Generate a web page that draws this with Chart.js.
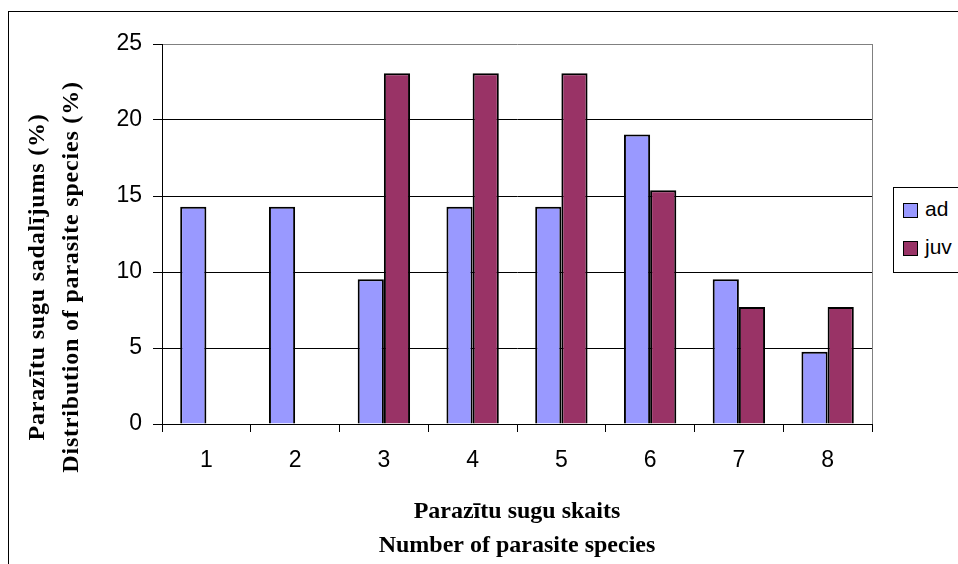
<!DOCTYPE html>
<html>
<head>
<meta charset="utf-8">
<title>Parazītu sugu sadalījums</title>
<script src="https://cdn.jsdelivr.net/npm/chart.js@4.4.1/dist/chart.umd.min.js"></script>
<style>
    body{ margin:0; background:#fff; }
    #wrap{ position:relative; width:958px; height:564px; overflow:hidden; }
    #legend{
        position:absolute; left:893px; top:187px; width:100px; height:86px;
        box-sizing:border-box; border:1px solid #000; background:#fff;
        font-family:"Liberation Sans", Arial, sans-serif; font-size:21px; color:#000;
    }
    #legend .item{ position:absolute; left:9px; height:24px; line-height:24px; white-space:nowrap; }
    #legend .box{ display:inline-block; width:15px; height:15px; box-sizing:border-box; border:1.5px solid #000; vertical-align:-2px; margin-right:7px; }
</style>
</head>
<body>
<div id="wrap">
    <canvas id="chart" width="958" height="564"></canvas>
    <div id="legend"></div>
</div>
<script>

const categories = ["1","2","3","4","5","6","7","8"];
const adValues = [14.29, 14.29, 9.52, 14.29, 14.29, 19.05, 9.52, 4.76];
const juvValues = [0, 0, 23.08, 23.08, 23.08, 15.38, 7.69, 7.69];
const yTicks = [0, 5, 10, 15, 20, 25];

const yTitle = ["Parazītu sugu sadalījums (%)", "Distribution of parasite species (%)"];
const xTitle = ["Parazītu sugu skaits", "Number of parasite species"];

const series = [
    { label:"ad", data:adValues, color:"#9999ff" },
    { label:"juv", data:juvValues, color:"#993366" }
];

// outer frame, right border of the plot and the rotated y title
const extras = {
    id:"extras",
    beforeDraw(chart){
        const ctx = chart.ctx;
        ctx.save();
        ctx.strokeStyle = "#000";
        ctx.lineWidth = 1;
        ctx.strokeRect(8.5, 11.5, 1200, 1000);
        ctx.restore();
    },
    afterDatasetsDraw(chart){
        const ctx = chart.ctx;
        const a = chart.chartArea;
        ctx.save();
        ctx.strokeStyle = "#808080";
        ctx.lineWidth = 1;
        ctx.beginPath();
        ctx.moveTo(Math.round(a.right) + 0.5, a.top);
        ctx.lineTo(Math.round(a.right) + 0.5, a.bottom);
        ctx.stroke();

        ctx.fillStyle = "#000";
        ctx.font = "bold 24px 'Liberation Serif', 'Times New Roman', serif";
        ctx.letterSpacing = "0.8px";
        ctx.textAlign = "center";
        ctx.textBaseline = "alphabetic";
        ctx.translate(44, 277);
        ctx.rotate(-Math.PI / 2);
        yTitle.forEach((line, i) => ctx.fillText(line, 0, i * 34));
        ctx.restore();
    }
};

const chart = new Chart(document.getElementById("chart"), {

    type:"bar",

    data:{
        labels:categories,
        datasets:series.map(s => ({
            label:s.label,
            data:s.data,
            backgroundColor:s.color,
            borderColor:"#000",
            borderWidth:2,
            categoryPercentage:0.59,
            barPercentage:1
        }))
    },

    options:{
        responsive:false,
        animation:false,
        devicePixelRatio:1,
        layout:{ padding:{ left:0, top:44, right:86, bottom:0 } },
        plugins:{
            legend:{ display:false },
            tooltip:{ enabled:false }
        },
        scales:{
            x:{
                afterFit:s => { s.height = 140; },
                grid:{ offset:true, drawOnChartArea:false, tickLength:8, tickColor:"#000", tickWidth:1 },
                border:{ color:"#000", width:1 },
                ticks:{
                    color:"#000", padding:15,
                    font:{ family:"'Liberation Sans', Arial, sans-serif", size:23 }
                },
                title:{
                    display:true, text:xTitle, color:"#000",
                    padding:{ top:0, bottom:1 },
                    font:{ family:"'Liberation Serif', 'Times New Roman', serif", size:24, weight:"bold", lineHeight:"34px" }
                }
            },
            y:{
                min:0, max:25,
                afterFit:s => { s.width = 162; },
                afterBuildTicks:s => { s.ticks = yTicks.map(v => ({ value:v })); },
                grid:{
                    color:c => c.tick && c.tick.value === 25 ? "#808080" : "#000",
                    tickColor:"#000", tickLength:9, lineWidth:1
                },
                border:{ color:"#000", width:1 },
                ticks:{
                    color:"#000", padding:11,
                    font:{ family:"'Liberation Sans', Arial, sans-serif", size:23 }
                }
            }
        }
    },

    plugins:[extras]

});

// legend as html, built from the datasets
const legend = document.getElementById("legend");
series.forEach((s, i) => {
    const item = document.createElement("div");
    item.className = "item";
    item.style.top = (9 + i * 38) + "px";
    const box = document.createElement("span");
    box.className = "box";
    box.style.background = s.color;
    item.appendChild(box);
    item.appendChild(document.createTextNode(s.label));
    legend.appendChild(item);
});

</script>
</body>
</html>
